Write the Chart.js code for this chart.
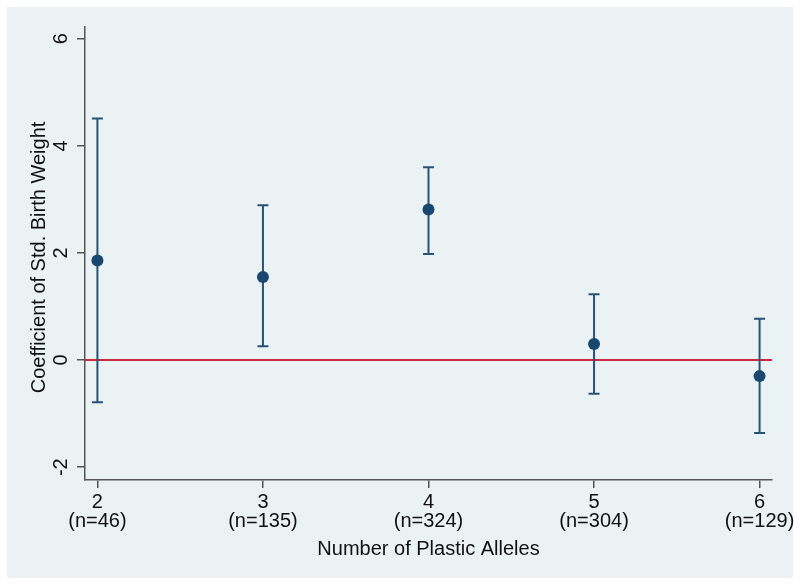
<!DOCTYPE html>
<html lang="en">
<head>
    <meta charset="UTF-8">
    <title>Coefficient of Std. Birth Weight by Number of Plastic Alleles</title>
    <script src="https://cdn.jsdelivr.net/npm/chart.js"></script>
    <style>
        html, body { margin: 0; padding: 0; background: #ffffff; }
        #wrap { width: 800px; height: 586px; }
    </style>
</head>
<body>
    <div id="wrap"><canvas id="allelesChart" width="800" height="586"></canvas></div>

    <script>
        // data
        const categories = [2, 3, 4, 5, 6];
        const sampleSizes = ['(n=46)', '(n=135)', '(n=324)', '(n=304)', '(n=129)'];
        const coefficients = [1.86, 1.55, 2.81, 0.30, -0.30];
        const upperCI = [4.51, 2.89, 3.60, 1.23, 0.77];
        const lowerCI = [-0.79, 0.26, 1.98, -0.63, -1.36];
        const yTicks = [-2, 0, 2, 4, 6];
        const xTitle = 'Number of Plastic Alleles';
        const yTitle = 'Coefficient of Std. Birth Weight';

        const FONT = '20px "Liberation Sans", Arial, sans-serif';
        const TEXT = '#111111';

        // background, error bars and text
        const stataLook = {
            id: 'stataLook',
            beforeDraw(chart) {
                const ctx = chart.ctx;
                ctx.save();
                ctx.fillStyle = '#ffffff';
                ctx.fillRect(0, 0, chart.width, chart.height);
                ctx.fillStyle = '#eaf2f3';
                ctx.fillRect(7, 7, chart.width - 14, chart.height - 15);
                ctx.restore();
            },
            beforeDatasetDraw(chart, args) {
                if (args.meta.type !== 'scatter') return;
                const ctx = chart.ctx;
                const xs = chart.scales.x, ys = chart.scales.y;
                ctx.save();
                ctx.strokeStyle = '#2a5278';
                ctx.lineWidth = 2;
                categories.forEach((c, i) => {
                    const px = xs.getPixelForValue(c);
                    const top = ys.getPixelForValue(upperCI[i]);
                    const bot = ys.getPixelForValue(lowerCI[i]);
                    ctx.beginPath();
                    ctx.moveTo(px, top); ctx.lineTo(px, bot);
                    ctx.moveTo(px - 5.5, top); ctx.lineTo(px + 5.5, top);
                    ctx.moveTo(px - 5.5, bot); ctx.lineTo(px + 5.5, bot);
                    ctx.stroke();
                });
                ctx.restore();
            },
            afterDraw(chart) {
                const ctx = chart.ctx;
                const xs = chart.scales.x, ys = chart.scales.y;
                const area = chart.chartArea;
                ctx.save();
                ctx.font = FONT;
                ctx.fillStyle = TEXT;
                ctx.textAlign = 'center';
                ctx.textBaseline = 'alphabetic';

                // x tick labels, two lines
                categories.forEach((c, i) => {
                    const px = xs.getPixelForValue(c);
                    ctx.fillText(String(c), px, area.bottom + 27.5);
                    ctx.fillText(sampleSizes[i], px, area.bottom + 47);
                });
                ctx.fillText(xTitle, (area.left + area.right) / 2, 555);

                // y tick labels, turned
                yTicks.forEach(v => {
                    const py = ys.getPixelForValue(v);
                    ctx.save();
                    ctx.translate(area.left - 18.5, py);
                    ctx.rotate(-Math.PI / 2);
                    ctx.fillText(String(v), 0, 0);
                    ctx.restore();
                });

                ctx.translate(45, (area.top + area.bottom) / 2 + 4);
                ctx.rotate(-Math.PI / 2);
                ctx.fillText(yTitle, 0, 0);
                ctx.restore();
            }
        };

        const ctx = document.getElementById('allelesChart').getContext('2d');
        const allelesChart = new Chart(ctx, {
            type: 'scatter',
            data: {
                datasets: [
                    {
                        label: 'Coefficient',
                        data: categories.map((c, i) => ({ x: c, y: coefficients[i] })),
                        backgroundColor: '#1a476f',
                        borderColor: '#1a476f',
                        pointRadius: 6,
                        pointBorderWidth: 0,
                        order: 1
                    },
                    {
                        type: 'line',
                        label: 'zero',
                        data: [{ x: 1.925, y: 0 }, { x: 6.075, y: 0 }],
                        borderColor: '#c9283e',
                        borderWidth: 2,
                        pointRadius: 0,
                        order: 2
                    }
                ]
            },
            options: {
                responsive: false,
                animation: false,
                layout: { padding: { left: 0, top: 27, right: 28, bottom: 0 } },
                plugins: {
                    legend: { display: false },
                    tooltip: { enabled: false }
                },
                scales: {
                    x: {
                        type: 'linear',
                        min: 1.925,
                        max: 6.075,
                        afterBuildTicks: scale => { scale.ticks = categories.map(v => ({ value: v })); },
                        afterFit: scale => { scale.height = 106; },
                        ticks: { display: false },
                        grid: { drawOnChartArea: false, color: '#555555', tickLength: 8, lineWidth: 1.5 },
                        border: { display: true, color: '#555555', width: 1.5 }
                    },
                    y: {
                        min: -2.24,
                        max: 6.22,
                        afterBuildTicks: scale => { scale.ticks = yTicks.map(v => ({ value: v })); },
                        afterFit: scale => { scale.width = 85; },
                        ticks: { display: false },
                        grid: { drawOnChartArea: false, color: '#555555', tickLength: 8, lineWidth: 1.5 },
                        border: { display: true, color: '#555555', width: 1.5 }
                    }
                }
            },
            plugins: [stataLook]
        });
    </script>
</body>
</html>
